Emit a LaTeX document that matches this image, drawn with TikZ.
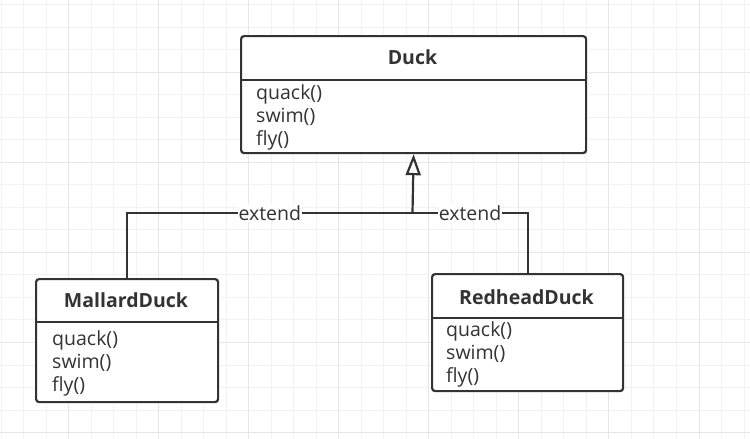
\documentclass[tikz,border=0pt]{standalone}
\usepackage{fontspec}
\setmainfont{Open Sans}
\usetikzlibrary{arrows.meta}
\definecolor{inkgray}{HTML}{333333}
\definecolor{gridminor}{HTML}{F2F2F2}
\definecolor{gridmajor}{HTML}{E6E6E6}

\begin{document}
\begin{tikzpicture}[x=1pt, y=-1pt,
  classbox/.style={draw=inkgray, line width=2.2pt, rounded corners=3pt,
    fill=white, inner sep=0pt, anchor=north west},
  classname/.style={font=\fontsize{19.5}{23}\selectfont\bfseries, text=inkgray},
  method/.style={font=\fontsize{19.5}{23}\selectfont, text=inkgray,
    anchor=west, inner sep=0pt},
  divider/.style={draw=inkgray, line width=2pt},
  extends/.style={draw=inkgray, line width=2.2pt},
  extlabel/.style={font=\fontsize{19.5}{23}\selectfont, text=inkgray,
    fill=white, inner sep=1pt}
]

% =====================
% Background grid
% =====================
\useasboundingbox (0,0) rectangle (750,439);
\fill[white] (0,0) rectangle (750,439);
\foreach \k in {0,...,33}
  \draw[gridminor, line width=1pt] ({1.2+22.51*\k},0) -- ++(0,439);
\foreach \k in {0,...,19}
  \draw[gridminor, line width=1pt] (0,{4.7+22.52*\k}) -- ++(750,0);
\foreach \k in {3,7,...,31}
  \draw[gridmajor, line width=1pt] ({1.2+22.51*\k},0) -- ++(0,439);
\foreach \k in {3,7,...,19}
  \draw[gridmajor, line width=1pt] (0,{4.7+22.52*\k}) -- ++(750,0);

% =====================
% Class Duck
% =====================
\node[classbox, minimum width=345pt, minimum height=117pt]
    (duck) at (240,35) {};
\draw[divider] (240,80) -- (585,80);
\node[classname] (duckname) at (412.5,57) {Duck};
\foreach \m [count=\i from 0] in {quack(), swim(), fly()}
  \node[method] (duckm\i) at (256,{94+23*\i}) {\m};

% =====================
% Class MallardDuck
% =====================
\node[classbox, minimum width=182pt, minimum height=123pt]
    (mallard) at (35,278) {};
\draw[divider] (35,322) -- (217,322);
\node[classname] (mallardname) at (126,300) {MallardDuck};
\foreach \m [count=\i from 0] in {quack(), swim(), fly()}
  \node[method] (mallardm\i) at (52,{340+23*\i}) {\m};

% =====================
% Class RedheadDuck
% =====================
\node[classbox, minimum width=191pt, minimum height=117pt]
    (redhead) at (431,273) {};
\draw[divider] (431,318) -- (622,318);
\node[classname] (redheadname) at (526.5,297) {RedheadDuck};
\foreach \m [count=\i from 0] in {quack(), swim(), fly()}
  \node[method] (redheadm\i) at (446,{331+23*\i}) {\m};

% =====================
% Generalization
% =====================
\coordinate (join) at (412.5,213);
\draw[extends, -{Triangle[width=15pt, length=21pt, fill=white]}]
    (join) -- (duck.south);
\draw[extends] (mallard.north) |- node[extlabel, pos=0.75] {extend} (join);
\draw[extends] (redhead.north) |- node[extlabel, pos=0.75] {extend} (join);

\end{tikzpicture}
\end{document}
